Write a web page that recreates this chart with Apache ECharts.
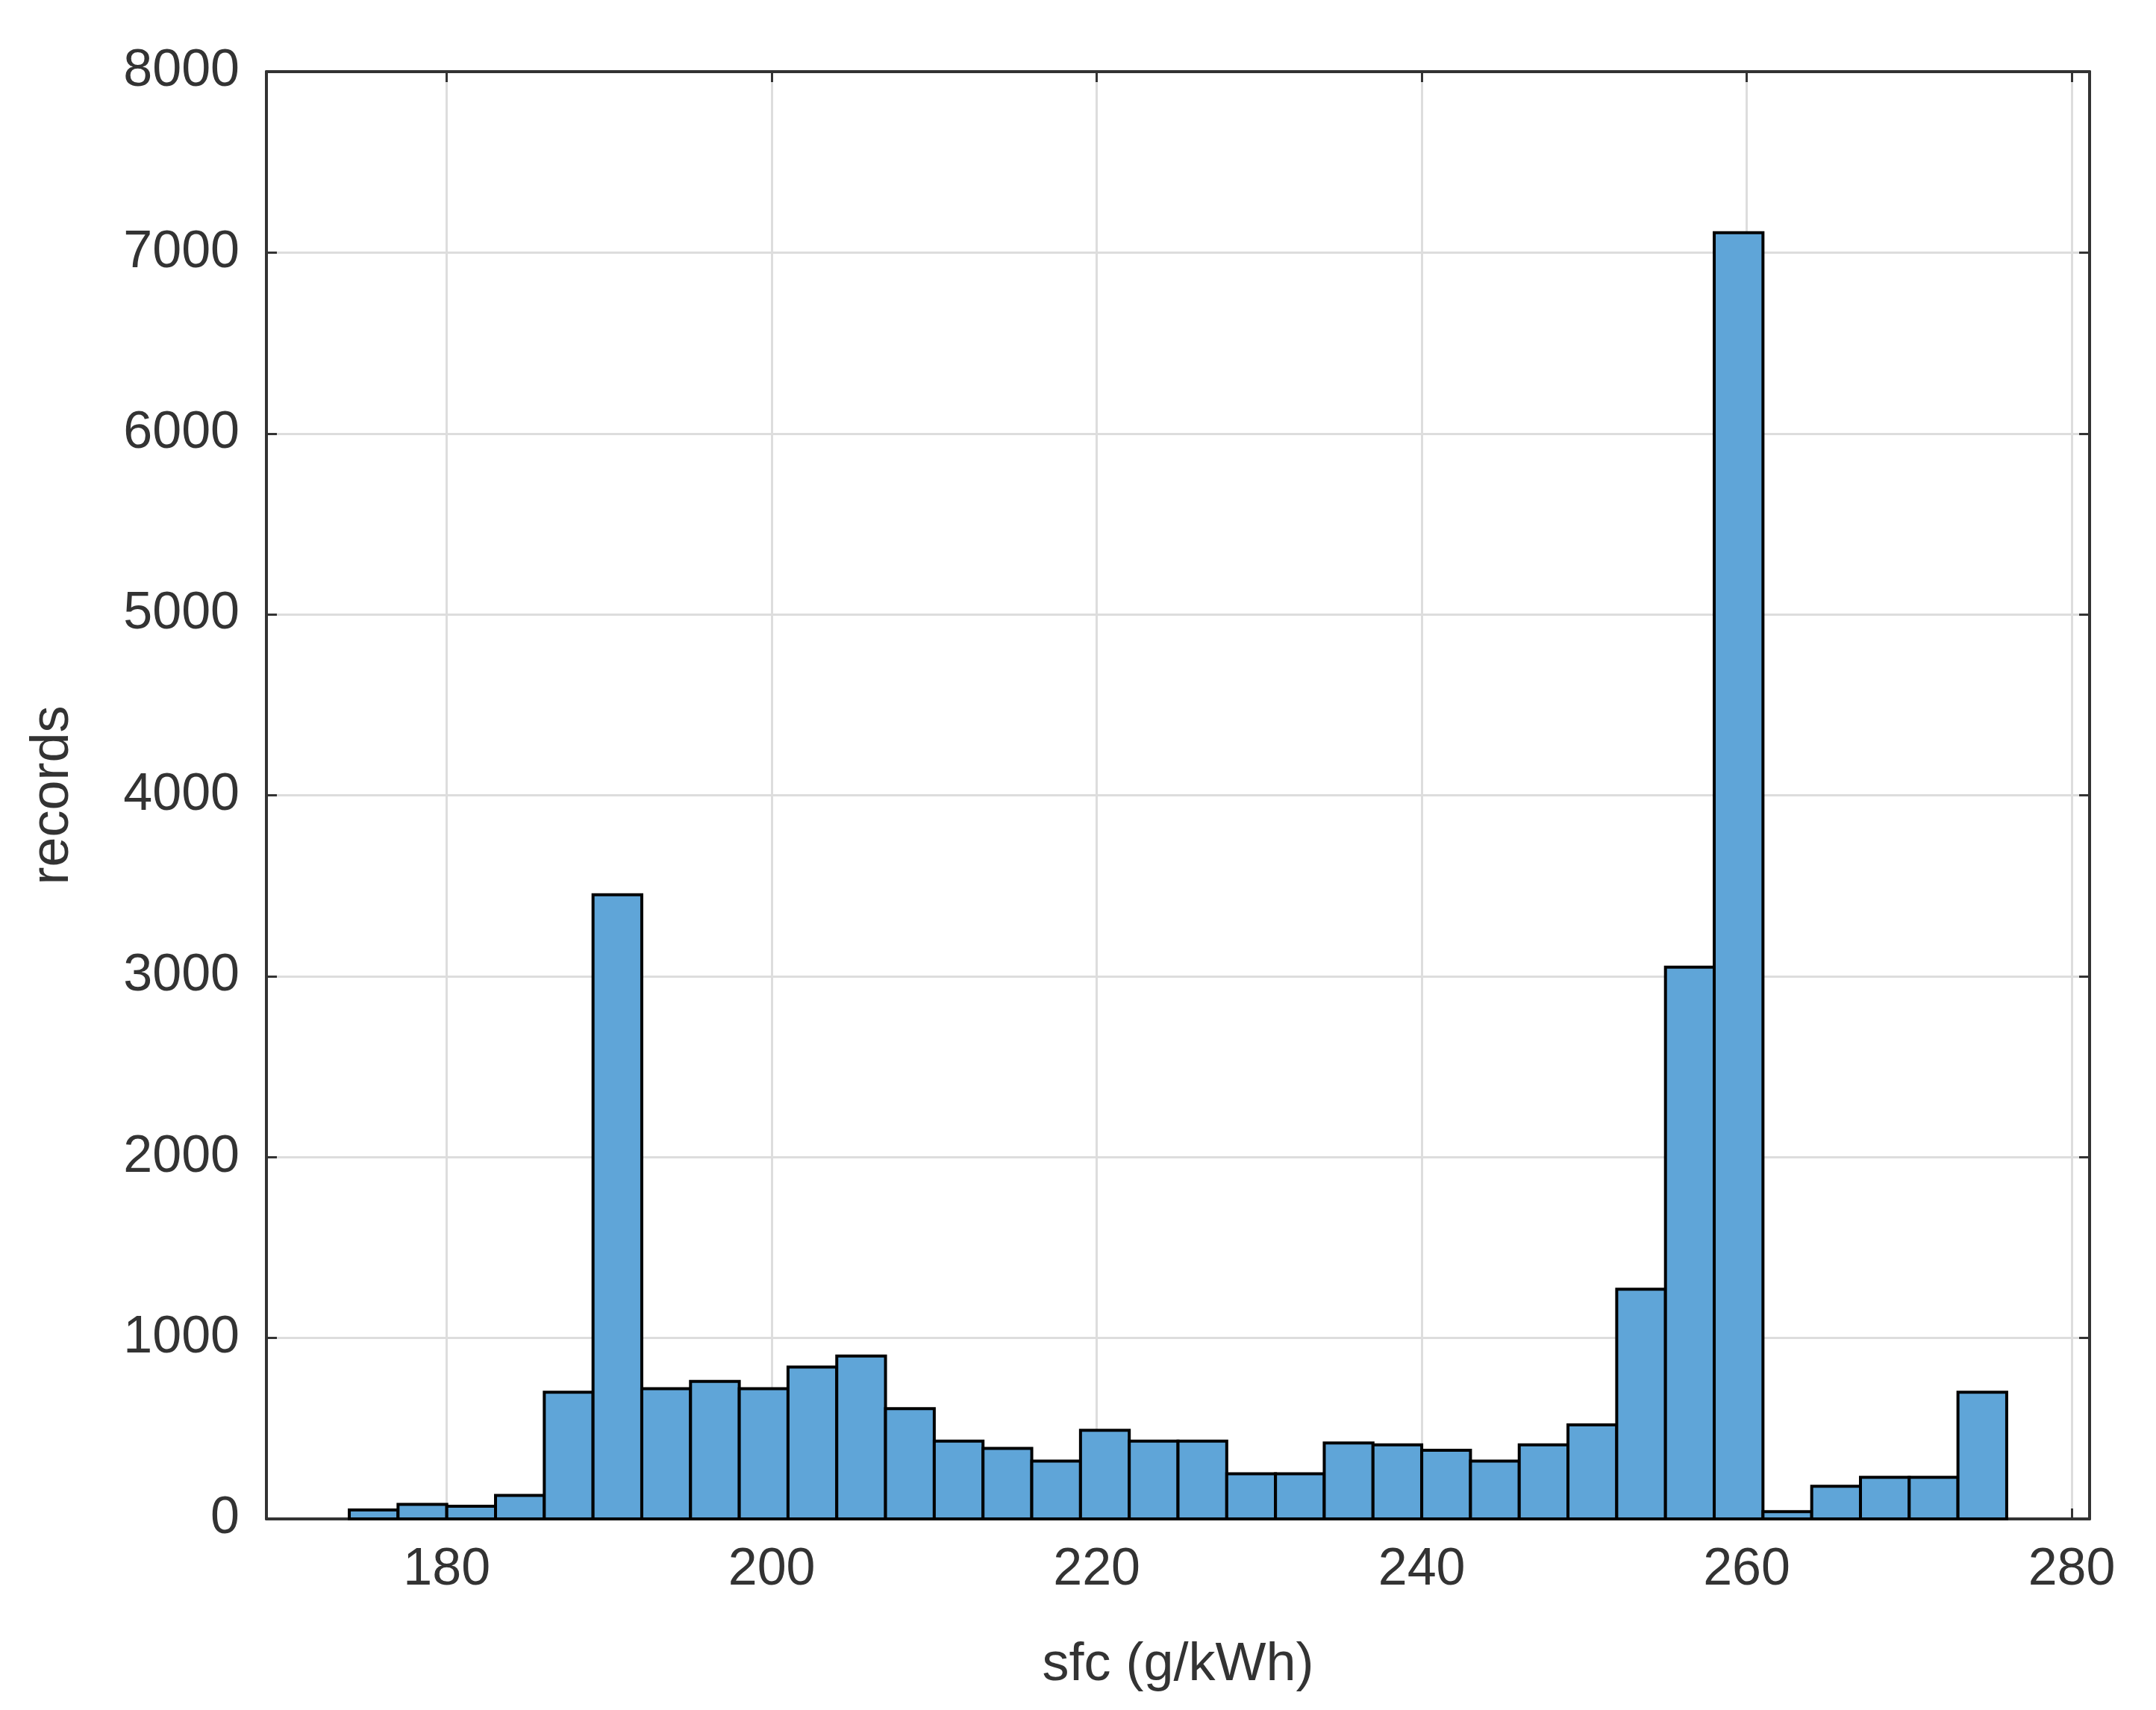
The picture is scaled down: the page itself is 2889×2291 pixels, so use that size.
<!DOCTYPE html>
<html><head><meta charset="utf-8">
<script src="https://cdn.jsdelivr.net/npm/echarts@6/dist/echarts.min.js"></script>
<style>html,body{margin:0;background:#fff}#c{width:2889px;height:2291px}</style>
</head><body><div id="c"></div>
<script>
const binStart = 174, binWidth = 3;
const counts = [50,80,70,130,700,3450,720,760,720,840,900,610,430,390,320,490,430,430,250,250,420,410,380,320,410,520,1270,3050,7110,40,180,230,230,700];
const xTicks = [180,200,220,240,260,280];
const yTicks = [0,1000,2000,3000,4000,5000,6000,7000,8000];
const xLabel = 'sfc (g/kWh)', yLabel = 'records';

const data = counts.map((c,i)=>[binStart+i*binWidth, binStart+(i+1)*binWidth, c]);
const chart = echarts.init(document.getElementById('c'));
const lab = {color:'#333', fontSize:70, fontFamily:'Liberation Sans'};
const line = {show:true, onZero:false, lineStyle:{color:'#333', width:4}};
const tick = (cv)=>Object.assign({show:true, inside:true, length:14, lineStyle:{color:'#333',width:3}}, cv?{customValues:cv}:{});
chart.setOption({
  animation:false,
  grid:{left:357, top:96, width:2443, height:1939},
  xAxis:[{type:'value', min:168.9, max:281.1, name:xLabel, nameLocation:'middle', nameGap:160,
    nameTextStyle:{color:'#333', fontSize:72, fontFamily:'Liberation Sans'},
    axisLine:line, axisTick:tick(xTicks),
    axisLabel:Object.assign({customValues:xTicks, margin:34}, lab),
    splitLine:{show:true, lineStyle:{color:'#ddd', width:3}}},
   {type:'value', position:'top', min:168.9, max:281.1, axisLine:line, axisTick:tick(xTicks), z:10,
    axisLabel:{show:false, customValues:xTicks}, splitLine:{show:false}}],
  yAxis:[{type:'value', min:0, max:8000, interval:1000, name:yLabel, nameLocation:'middle', nameGap:250,
    nameTextStyle:{color:'#333', fontSize:72, fontFamily:'Liberation Sans'},
    axisLine:line, axisTick:tick(),
    axisLabel:Object.assign({margin:36, formatter:v=>String(v)}, lab),
    splitLine:{show:true, lineStyle:{color:'#ddd', width:3}}},
   {type:'value', position:'right', min:0, max:8000, interval:1000, axisLine:line, axisTick:tick(), z:10,
    axisLabel:{show:false}, splitLine:{show:false}}],
  series:[{type:'custom', z:5, data:data, encode:{x:[0,1], y:2},
    renderItem:(params, api)=>{
      const p0 = api.coord([api.value(0), api.value(2)]);
      const p1 = api.coord([api.value(1), 0]);
      return {type:'rect', shape:{x:p0[0], y:p0[1], width:p1[0]-p0[0], height:p1[1]-p0[1]},
        style:{fill:'#5fa5d8', stroke:'#000', lineWidth:4}};
    }}]
});
</script></body></html>
